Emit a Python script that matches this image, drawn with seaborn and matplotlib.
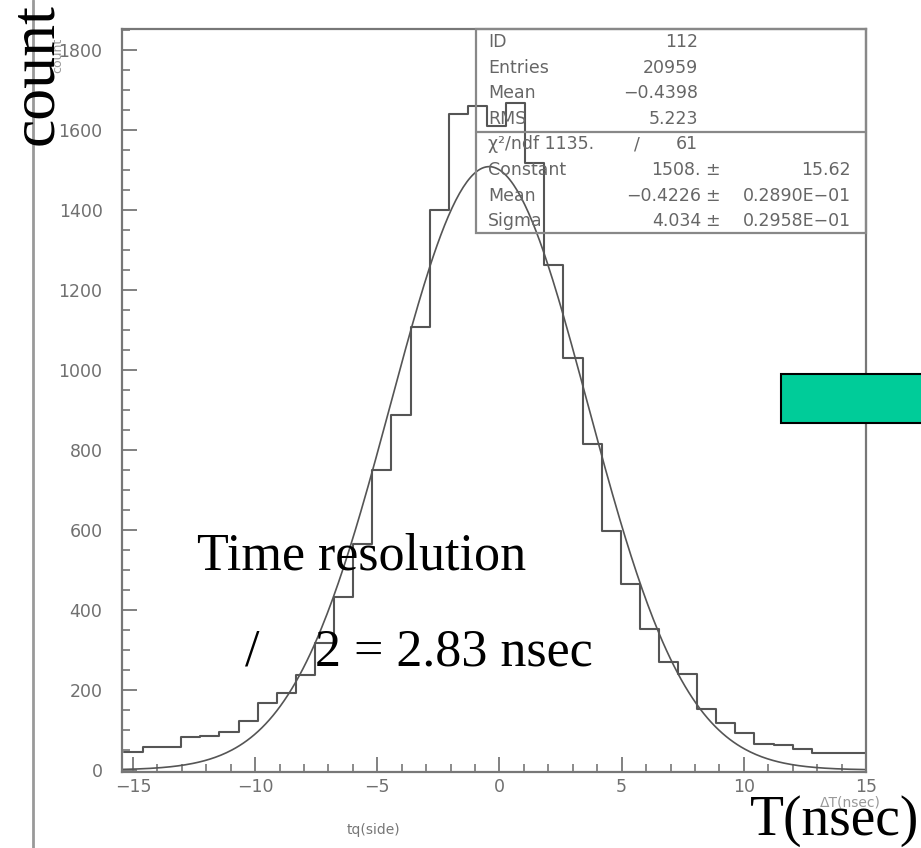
import numpy as np
import pandas as pd
import matplotlib
matplotlib.use("Agg")
import matplotlib.pyplot as plt
from matplotlib.lines import Line2D
from matplotlib.patches import Rectangle
from matplotlib.ticker import MultipleLocator
import seaborn as sns

# histogram tq(side): 40 bins, counts
bin_start = -15.37
bin_width = 0.782
counts = [45, 57, 58, 83, 84, 95, 122, 167, 192, 237,
          317, 432, 565, 750, 888, 1107, 1400, 1640, 1660, 1610,
          1668, 1518, 1262, 1030, 815, 597, 465, 352, 270, 240,
          152, 118, 92, 64, 62, 53, 43, 42, 42, 40]

# gaussian fit parameters printed in the stats box
fit_const = 1508.0
fit_mean = -0.4226
fit_sigma = 4.034

stat_labels = ["ID", "Entries", "Mean", "RMS"]
stat_values = ["112", "20959", "\u22120.4398", "5.223"]
fit_labels = ["Constant", "Mean", "Sigma"]
fit_values = ["1508.", "\u22120.4226", "4.034"]
fit_errors = ["15.62", "0.2890E\u221201", "0.2958E\u221201"]

x_ticks = [-15, -10, -5, 0, 5, 10, 15]
y_ticks = [0, 200, 400, 600, 800, 1000, 1200, 1400, 1600, 1800]

sns.set_style("white")
plt.rcParams['font.family'] = ['DejaVu Sans']
plt.rcParams['axes.unicode_minus'] = True

W, H = 921, 848
fig = plt.figure(figsize=(W / 100, H / 100), dpi=100)


def fx(px):
    return px / W


def fy(py):
    return 1 - py / H


ax = fig.add_axes([fx(122), fy(772), (866 - 122) / W, (772 - 29) / H])

edges = [float(e) for e in bin_start + bin_width * np.arange(len(counts) + 1)]
df = pd.DataFrame({"t": [e + bin_width / 2 for e in edges[:-1]], "n": counts})
sns.histplot(data=df, x="t", weights="n", bins=edges, element="step", fill=False,
             color="#555555", linewidth=1.5, ax=ax)

fit_x = np.linspace(-15.45, 15.0, 400)
fit_y = fit_const * np.exp(-0.5 * ((fit_x - fit_mean) / fit_sigma) ** 2)
sns.lineplot(x=fit_x, y=fit_y, color="#555555", linewidth=1.2, ax=ax)

ax.set_xlim(-15.45, 15.0)
ax.set_ylim(-5, 1852)
ax.set_xticks(x_ticks)
ax.set_yticks(y_ticks)
ax.xaxis.set_minor_locator(MultipleLocator(1))
ax.yaxis.set_minor_locator(MultipleLocator(50))
ax.set_xlabel("")
ax.set_ylabel("")
for s in ax.spines.values():
    s.set_color("#777777")
    s.set_linewidth(1.6)
ax.tick_params(which="both", direction="in", color="#777777", labelcolor="#707070",
               labelsize=12.5, bottom=True, left=True, top=False, right=False)
ax.tick_params(which="major", length=10.5, width=1.3)
ax.tick_params(which="minor", length=5.5, width=1.2)
ax.tick_params(axis="y", pad=14)
ax.tick_params(axis="x", pad=4)

# stats box
gray = "#888888"
fig.add_artist(Rectangle((fx(476), fy(233)), (866 - 476) / W, (233 - 29) / H,
                         fill=False, edgecolor=gray, linewidth=1.6))
fig.add_artist(Line2D([fx(476), fx(866)], [fy(132), fy(132)], color=gray, linewidth=1.6))

tc = "#666666"
fs = 12.5
row_y = [42 + 25.6 * i for i in range(8)]
for i, (lab, val) in enumerate(zip(stat_labels, stat_values)):
    fig.text(fx(488), fy(row_y[i]), lab, color=tc, fontsize=fs, va="center")
    fig.text(fx(698), fy(row_y[i]), val, color=tc, fontsize=fs, va="center", ha="right")

fig.text(fx(488), fy(row_y[4]), "\u03c7\u00b2/ndf 1135.", color=tc, fontsize=fs, va="center")
fig.text(fx(637), fy(row_y[4]), "/", color=tc, fontsize=fs, va="center", ha="center")
fig.text(fx(698), fy(row_y[4]), "61", color=tc, fontsize=fs, va="center", ha="right")
for i, (lab, val, err) in enumerate(zip(fit_labels, fit_values, fit_errors)):
    y = fy(row_y[5 + i])
    fig.text(fx(488), y, lab, color=tc, fontsize=fs, va="center")
    fig.text(fx(701), y, val, color=tc, fontsize=fs, va="center", ha="right")
    fig.text(fx(712), y, "\u00b1", color=tc, fontsize=fs, va="center", ha="center")
    fig.text(fx(851), y, err, color=tc, fontsize=fs, va="center", ha="right")

# small labels from the original plot (partly hidden under the slide text, as in the source)
fig.text(fx(373), fy(830), "tq(side)", color="#777777", fontsize=10, ha="center", va="center")
fig.text(fx(850), fy(803), "\u0394T(nsec)", color="#999999", fontsize=10, ha="center", va="center")
fig.text(fx(58), fy(55), "count", color="#999999", fontsize=9, rotation=90, ha="center", va="center")

# slide annotations
serif = ["Liberation Serif", "DejaVu Serif"]
fig.text(fx(66), fy(3), "count", family=serif, fontsize=46, rotation=90, ha="right", va="top",
         color="black")
fig.text(fx(197), fy(570), "Time resolution", family=serif, fontsize=37.5, ha="left",
         va="baseline", color="black")
fig.text(fx(245), fy(665), "/", family=serif, fontsize=37.5, ha="left", va="baseline", color="black")
fig.text(fx(315), fy(665), "2 = 2.83 nsec", family=serif, fontsize=37.5, ha="left",
         va="baseline", color="black")
fig.text(fx(919), fy(835), "T(nsec)", family=serif, fontsize=40, ha="right", va="baseline",
         color="black")

fig.add_artist(Line2D([fx(33), fx(33)], [0, 1], color="#999999", linewidth=2))
fig.add_artist(Rectangle((fx(781), fy(423)), (W - 781 + 5) / W, (423 - 374) / H,
                         facecolor="#00CC99", edgecolor="black", linewidth=1.5))

fig.savefig("out.png", dpi=100)
